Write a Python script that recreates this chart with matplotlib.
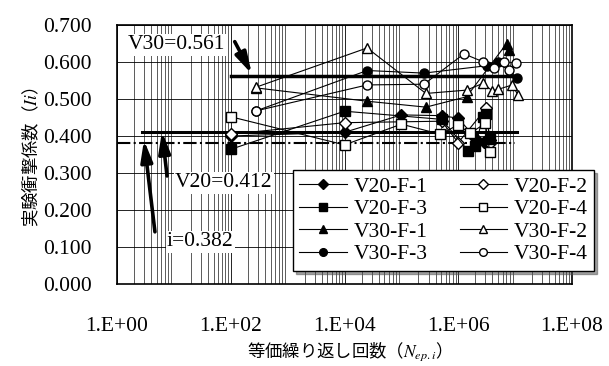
import matplotlib
matplotlib.use("Agg")
import matplotlib.pyplot as plt
import numpy as np

plt.rcParams['font.family'] = ['Liberation Serif', 'Noto Sans CJK JP']
plt.rcParams['mathtext.fontset'] = 'stix'

# ---- data ----
v20f1_n = [1.0e2, 1.0e4, 1.0e5, 5.1e5, 1.0e6, 2.0e6, 2.8e6, 3.6e6]
v20f1_i = [0.400, 0.410, 0.457, 0.455, 0.448, 0.395, 0.385, 0.390]
v20f2_n = [1.0e2, 1.0e4, 5.1e5, 1.0e6, 3.1e6, 3.6e6]
v20f2_i = [0.405, 0.436, 0.440, 0.382, 0.475, 0.382]
v20f3_n = [1.0e2, 1.0e4, 5.1e5, 1.5e6, 2.0e6, 2.7e6, 3.1e6, 3.6e6]
v20f3_i = [0.364, 0.467, 0.445, 0.360, 0.372, 0.452, 0.460, 0.392]
v20f4_n = [1.0e2, 1.0e4, 1.0e5, 4.8e5, 1.0e6, 1.6e6, 3.0e6, 3.6e6]
v20f4_i = [0.452, 0.376, 0.432, 0.405, 0.430, 0.407, 0.434, 0.356]
v30f1_n = [2.8e2, 2.5e4, 2.7e5, 1.4e6, 7.1e6, 7.9e6]
v30f1_i = [0.530, 0.494, 0.478, 0.506, 0.650, 0.632]
v30f2_n = [2.8e2, 2.5e4, 2.7e5, 1.4e6, 2.7e6, 4.0e6, 5.0e6, 8.9e6, 1.12e7]
v30f2_i = [0.532, 0.638, 0.515, 0.524, 0.542, 0.522, 0.526, 0.538, 0.511]
v30f3_n = [2.8e2, 2.5e4, 2.5e5, 3.2e6, 5.0e6, 1.1e7]
v30f3_i = [0.468, 0.577, 0.570, 0.590, 0.600, 0.556]
v30f4_n = [2.8e2, 2.5e4, 2.5e5, 1.26e6, 2.7e6, 4.3e6, 6.5e6, 7.9e6, 1.05e7]
v30f4_i = [0.468, 0.538, 0.540, 0.622, 0.601, 0.585, 0.601, 0.578, 0.596]

series_labels = ['V20-F-1', 'V20-F-2', 'V20-F-3', 'V20-F-4',
                 'V30-F-1', 'V30-F-2', 'V30-F-3', 'V30-F-4']
v30_mean = 0.561
v20_mean = 0.412
i_design = 0.382
v30_span = [1.0e2, 1.0e7]
v20_span = [2.8e0, 1.07e7]
i_span = [1.0e0, 1.0e7]

x_ticks = [1e0, 1e2, 1e4, 1e6, 1e8]
x_ticklabels = ['1.E+00', '1.E+02', '1.E+04', '1.E+06', '1.E+08']
y_ticks = [0.0, 0.1, 0.2, 0.3, 0.4, 0.5, 0.6, 0.7]

# ---- figure ----
fig = plt.figure(figsize=(6.09, 3.66), dpi=100)
ax = fig.add_axes([117/609, 1-284/366, (572-117)/609, (284-25)/366])
ax.set_xscale('log')
ax.set_xlim(1e0, 1e8)
ax.set_ylim(0, 0.7)

ax.set_xticks(x_ticks)
ax.set_xticklabels(x_ticklabels)
ax.set_yticks(y_ticks)
ax.set_yticklabels(['%.3f' % v for v in y_ticks])
ax.xaxis.set_minor_locator(matplotlib.ticker.LogLocator(base=10, subs=np.arange(2, 10), numticks=100))
ax.xaxis.set_minor_formatter(matplotlib.ticker.NullFormatter())
ax.tick_params(axis='both', which='both', length=0, labelsize=15.5, colors='black')
ax.tick_params(axis='x', pad=24)
ax.tick_params(axis='y', pad=18)
ax.grid(True, which='major', axis='both', color='black', lw=0.6)
ax.grid(True, which='minor', axis='x', color='black', lw=0.45)
ax.set_axisbelow(True)
for s in ax.spines.values():
    s.set_linewidth(1.2)

# reference lines
ax.plot(i_span, [i_design, i_design], color='black', lw=1.5, ls='-.', zorder=2)
ax.plot(v20_span, [v20_mean, v20_mean], color='black', lw=2.2, zorder=2)
ax.plot(v30_span, [v30_mean, v30_mean], color='black', lw=2.5, zorder=2)

data = [(v20f1_n, v20f1_i, 'D', 'black'), (v20f2_n, v20f2_i, 'D', 'white'),
        (v20f3_n, v20f3_i, 's', 'black'), (v20f4_n, v20f4_i, 's', 'white'),
        (v30f1_n, v30f1_i, '^', 'black'), (v30f2_n, v30f2_i, '^', 'white'),
        (v30f3_n, v30f3_i, 'o', 'black'), (v30f4_n, v30f4_i, 'o', 'white')]
handles = []
for (n, v, m, fc), lab in zip(data, series_labels):
    ms = 6.5 if m in ('s', 'o') else (7.5 if m == '^' else 6)
    h, = ax.plot(n, v, color='black', lw=0.8, marker=m, ms=ms, mfc=fc, mec='black',
                 mew=1.0, label=lab, zorder=3)
    handles.append(h)

# annotations
bbox_w = dict(facecolor='white', edgecolor='none', pad=1.0)
arrow_kw = dict(arrowstyle='-|>,head_length=0.9,head_width=0.25', lw=2.6,
                color='black', mutation_scale=14, shrinkA=0, shrinkB=0)
ax.text(10**0.19, 0.646, 'V30=0.561', fontsize=15.5, ha='left', va='center', bbox=bbox_w, zorder=4)
ax.annotate('', xy=(10**2.37, 0.568), xytext=(10**2.07, 0.655), arrowprops=arrow_kw, zorder=5)
ax.text(10**1.02, 0.273, 'V20=0.412', fontsize=15.5, ha='left', va='center', bbox=bbox_w, zorder=4)
ax.annotate('', xy=(10**0.79, 0.412), xytext=(10**0.88, 0.292), arrowprops=arrow_kw, zorder=5)
ax.text(10**0.877, 0.114, 'i=0.382', fontsize=15.5, ha='left', va='center', bbox=bbox_w, zorder=4)
ax.annotate('', xy=(10**0.474, 0.389), xytext=(10**0.667, 0.141), arrowprops=arrow_kw, zorder=5)

# legend (row-wise: F-1 F-2 / F-3 F-4 ...)
order = [0, 2, 4, 6, 1, 3, 5, 7]
leg = fig.legend([handles[k] for k in order], [series_labels[k] for k in order],
                 ncol=2, loc='upper left', bbox_to_anchor=(293/609, 1-170/366),
                 borderaxespad=0, fancybox=False, shadow=True, framealpha=1,
                 edgecolor='black', fontsize=15.5, handlelength=2.2,
                 labelspacing=0.12, columnspacing=1.5, handletextpad=0.3,
                 borderpad=0.3, markerscale=0.85)
leg.get_frame().set_linewidth(1.0)

# axis labels
fig.text(31/609, 1-157/366, '実験衝撃係数（$Ii$）', rotation=90, ha='center', va='center',
         fontsize=12.5, family='Noto Sans CJK JP')
fig.text(345/609, 1-352/366, '等価繰り返し回数（$N_{ep.i}$）', ha='center', va='center',
         fontsize=12.5, family='Noto Sans CJK JP')

fig.savefig('out.png', dpi=100)
